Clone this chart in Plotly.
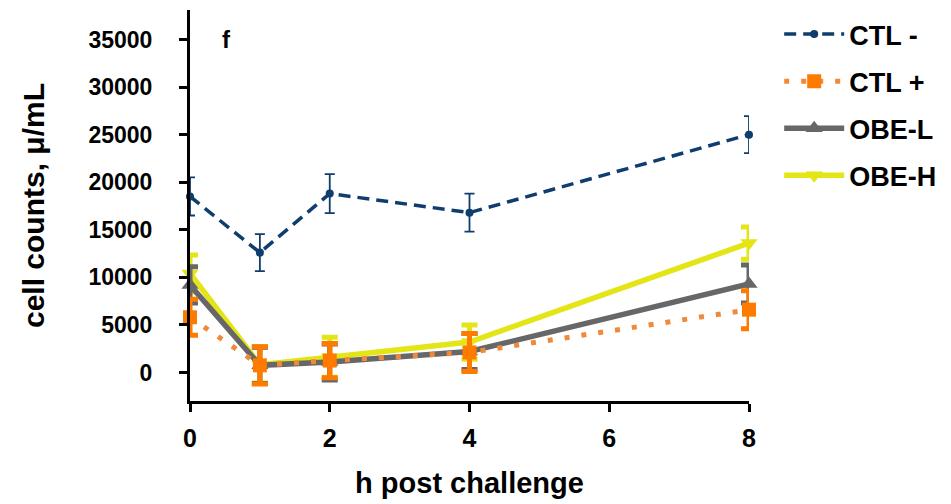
import plotly.graph_objects as go

hours = [0, 1, 2, 4, 8]

ctl_neg = [18500, 12600, 18800, 16800, 25000]
ctl_neg_err = [2000, 1950, 2050, 2000, 1950]

ctl_pos = [5800, 750, 1250, 2100, 6600]
ctl_pos_err = [1900, 1950, 1800, 2000, 2000]

obe_l = [9200, 750, 1100, 2200, 9300]
obe_l_err = [1900, 1900, 1900, 1900, 2000]

obe_h = [10400, 800, 1600, 3200, 13600]
obe_h_err = [1950, 1900, 2100, 1800, 1700]

names = ["CTL -", "CTL +", "OBE-L", "OBE-H"]

NAVY = "#0e3d6e"
ORANGE = "#ff7b00"
ORANGE_DOT = "#f0893a"
GRAY = "#676767"
YELLOW = "#e3e516"

FONT = "Liberation Sans, Arial, sans-serif"

fig = go.Figure()

# drawn bottom to top; legend order set by legendrank
fig.add_trace(go.Scatter(
    x=hours, y=obe_h, name=names[3], mode="lines+markers",
    line=dict(color=YELLOW, width=5.5),
    marker=dict(symbol="triangle-down", size=15, color=YELLOW),
    error_y=dict(type="data", array=obe_h_err, color=YELLOW, thickness=5, width=8),
    cliponaxis=False, legendgroup="d", legendrank=4))

fig.add_trace(go.Scatter(
    x=hours, y=obe_l, name=names[2], mode="lines+markers",
    line=dict(color=GRAY, width=5.5),
    marker=dict(symbol="triangle-up", size=15, color=GRAY),
    error_y=dict(type="data", array=obe_l_err, color=GRAY, thickness=5, width=8),
    cliponaxis=False, legendgroup="c", legendrank=3))

fig.add_trace(go.Scatter(
    x=hours, y=ctl_pos, name=names[1], mode="lines+markers",
    line=dict(color=ORANGE_DOT, width=5, dash="5px,12px"),
    marker=dict(symbol="square", size=14, color=ORANGE),
    error_y=dict(type="data", array=ctl_pos_err, color=ORANGE, thickness=5, width=8),
    cliponaxis=False, legendgroup="b", legendrank=2))

fig.add_trace(go.Scatter(
    x=hours, y=ctl_neg, name=names[0], mode="lines+markers",
    line=dict(color=NAVY, width=3.5, dash="12px,7px"),
    marker=dict(symbol="circle", size=8, color=NAVY),
    error_y=dict(type="data", array=ctl_neg_err, color=NAVY, thickness=1.8, width=5),
    cliponaxis=False, legendgroup="a", legendrank=1))

fig.add_annotation(x=0.52, y=35000, xref="x", yref="y", text="<b>f</b>",
                   showarrow=False, font=dict(family=FONT, size=24, color="black"))

fig.update_layout(
    width=951, height=504,
    margin=dict(l=190, r=199, t=10, b=101),
    paper_bgcolor="white", plot_bgcolor="white",
    font=dict(family=FONT, color="black"),
    legend=dict(x=1.054, xanchor="left", y=1.0, yanchor="top",
                font=dict(family=FONT, size=27, color="black", weight="bold"),
                traceorder="grouped", tracegroupgap=9, itemwidth=60,
                bgcolor="rgba(0,0,0,0)"),
    xaxis=dict(range=[0, 8], tickvals=[0, 2, 4, 6, 8], showgrid=False, zeroline=False,
               showline=True, linecolor="black", linewidth=3,
               ticks="outside", ticklen=8, tickwidth=3, tickcolor="black",
               tickfont=dict(family=FONT, size=25, color="black", weight="bold"),
               ticklabelstandoff=5,
               title=dict(text="<b>h post challenge</b>", standoff=22,
                          font=dict(family=FONT, size=29, color="black"))),
    yaxis=dict(range=[-3000, 38100], tickvals=[0, 5000, 10000, 15000, 20000, 25000, 30000, 35000],
               tickformat="d",
               showgrid=False, zeroline=False,
               showline=True, linecolor="black", linewidth=3,
               ticks="outside", ticklen=8, tickwidth=3, tickcolor="black",
               tickfont=dict(family=FONT, size=23, color="black", weight="bold"),
               ticklabelstandoff=22,
               title=dict(text="<b>cell counts, μ/mL</b>", standoff=35,
                          font=dict(family=FONT, size=30, color="black"))),
)

fig.write_html("out.html")
